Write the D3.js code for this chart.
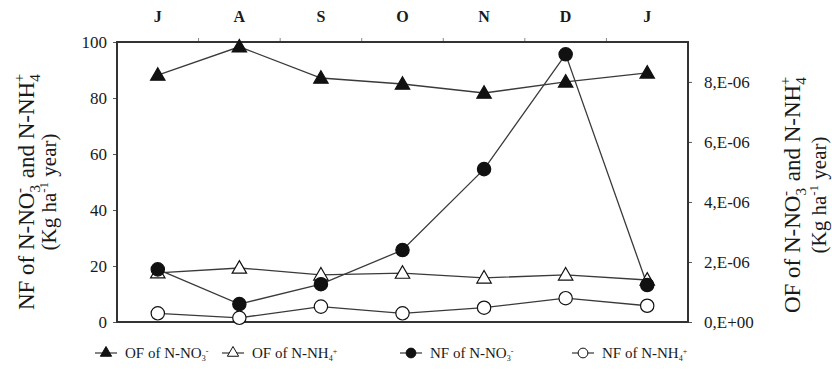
<!DOCTYPE html>
<html>
<head>
<meta charset="utf-8">
<script src="https://cdn.jsdelivr.net/npm/d3@7"></script>
<style>
  body { margin: 0; background: #fff; }
  svg text { font-family: "Liberation Serif", "DejaVu Serif", serif; fill: #1a1a1a; }
  .domain { display: none; }
  .tick line { stroke: #555; }
</style>
</head>
<body>
<svg width="832" height="379"></svg>
<script>
var months = ["J", "A", "S", "O", "N", "D", "J"];
// left axis (NF), Kg ha-1 year
var nfNO3 = [18.8, 6.4, 13.5, 25.7, 54.6, 95.6, 13.2];
var nfNH4 = [3.1, 1.5, 5.5, 3.1, 5.1, 8.5, 5.8];
// right axis (OF)
var ofNO3 = [8.23e-6, 9.17e-6, 8.13e-6, 7.93e-6, 7.63e-6, 8.0e-6, 8.3e-6];
var ofNH4 = [1.64e-6, 1.8e-6, 1.57e-6, 1.63e-6, 1.47e-6, 1.57e-6, 1.4e-6];
var leftTicks = [0, 20, 40, 60, 80, 100];
var rightTicks = [0, 2e-6, 4e-6, 6e-6, 8e-6];

var plotL = 117, plotR = 688, plotT = 42, plotB = 322;

var svg = d3.select("svg");

var x = d3.scaleBand()
    .domain(d3.range(months.length))
    .range([plotL, plotR])
    .padding(0);

var yL = d3.scaleLinear().domain([0, 100]).range([plotB, plotT]);
var yR = d3.scaleLinear().domain([0, 9.33e-6]).range([plotB, plotT]);

function cx(i) { return x(i) + x.bandwidth() / 2; }

// left axis
svg.append("g")
    .attr("transform", "translate(" + plotL + ",0)")
    .call(d3.axisLeft(yL).tickValues(leftTicks).tickSize(4).tickPadding(6))
    .selectAll("text").style("font-size", "17px");

// right axis
svg.append("g")
    .attr("transform", "translate(" + plotR + ",0)")
    .call(d3.axisRight(yR).tickValues(rightTicks).tickSize(4).tickPadding(12)
        .tickFormat(function(v) {
            return v === 0 ? "0,E+00" : Math.round(v / 1e-6) + ",E-06";
        }))
    .selectAll("text").style("font-size", "17px");

// top month labels
svg.append("g")
    .attr("transform", "translate(0," + plotT + ")")
    .call(d3.axisTop(x).tickSize(0).tickPadding(20).tickFormat(function(i) { return months[i]; }))
    .selectAll("text")
    .style("font-size", "16px")
    .style("font-weight", "bold");

// small ticks between months on top border
svg.append("g")
    .selectAll("line")
    .data(d3.range(1, months.length))
    .enter().append("line")
    .attr("x1", function(i) { return x(i); })
    .attr("x2", function(i) { return x(i); })
    .attr("y1", plotT)
    .attr("y2", plotT - 4)
    .attr("stroke", "#888");

// frame
svg.append("rect")
    .attr("x", plotL)
    .attr("y", plotT)
    .attr("width", plotR - plotL)
    .attr("height", plotB - plotT)
    .attr("fill", "none")
    .attr("stroke", "#333")
    .attr("stroke-width", 2);

var triangle = d3.symbol().type(d3.symbolTriangle).size(90);
var circle = d3.symbol().type(d3.symbolCircle).size(140);

var series = [
    { name: "OF of N-NO", sub: "3", sup: "-", values: ofNO3, y: yR, sym: triangle, fill: "#111" },
    { name: "OF of N-NH", sub: "4", sup: "+", values: ofNH4, y: yR, sym: triangle, fill: "#fff" },
    { name: "NF of N-NO", sub: "3", sup: "-", values: nfNO3, y: yL, sym: circle, fill: "#111" },
    { name: "NF of N-NH", sub: "4", sup: "+", values: nfNH4, y: yL, sym: circle, fill: "#fff" }
];

series.forEach(function(s) {
    var line = d3.line()
        .x(function(d, i) { return cx(i); })
        .y(function(d) { return s.y(d); });

    svg.append("path")
        .datum(s.values)
        .attr("d", line)
        .attr("fill", "none")
        .attr("stroke", "#3a3a3a")
        .attr("stroke-width", 1.3);
});

series.forEach(function(s) {
    svg.append("g")
        .selectAll("path")
        .data(s.values)
        .enter().append("path")
        .attr("d", s.sym)
        .attr("transform", function(d, i) {
            return "translate(" + cx(i) + "," + (s.y(d) + (s.sym === triangle ? 1 : 0)) + ")";
        })
        .attr("fill", s.fill)
        .attr("stroke", "#111")
        .attr("stroke-width", 1.2);
});

// axis titles
function title(x1, x2, cyPos, first) {
    var t = svg.append("text")
        .attr("transform", "translate(" + x1 + "," + cyPos + ") rotate(-90)")
        .attr("text-anchor", "middle")
        .style("font-size", "23px");
    t.append("tspan").text(first + " of N-NO");
    t.append("tspan").attr("dy", 6).style("font-size", "15px").text("3");
    t.append("tspan").attr("dx", -8).attr("dy", -16).style("font-size", "15px").text("-");
    t.append("tspan").attr("dx", 4).attr("dy", 10).text(" and N-NH");
    t.append("tspan").attr("dy", 6).style("font-size", "15px").text("4");
    t.append("tspan").attr("dx", -8).attr("dy", -16).style("font-size", "15px").text("+");

    var t2 = svg.append("text")
        .attr("transform", "translate(" + x2 + "," + cyPos + ") rotate(-90)")
        .attr("text-anchor", "middle")
        .style("font-size", "21px");
    t2.append("tspan").text("(Kg ha");
    t2.append("tspan").attr("dy", -8).style("font-size", "13px").text("-1");
    t2.append("tspan").attr("dy", 8).text(" year)");
}
title(34, 56, 192, "NF");
title(800, 826, 195, "OF");

// legend
var legX = [95, 222, 400, 572];
var leg = svg.append("g");
series.forEach(function(s, k) {
    var g = leg.append("g").attr("transform", "translate(" + legX[k] + ",353)");
    g.append("line").attr("x1", 0).attr("x2", 22).attr("stroke", "#333").attr("stroke-width", 1.2);
    g.append("path")
        .attr("d", s.sym === triangle ? d3.symbol().type(d3.symbolTriangle).size(55) : d3.symbol().type(d3.symbolCircle).size(75))
        .attr("transform", "translate(11,0)")
        .attr("fill", s.fill)
        .attr("stroke", "#111");
    var t = g.append("text").attr("x", 30).attr("dy", "0.35em").style("font-size", "15px");
    t.append("tspan").text(s.name);
    t.append("tspan").attr("dy", 3).style("font-size", "8px").text(s.sub);
    t.append("tspan").attr("dy", -7).style("font-size", "8px").text(s.sup);
});
</script>
</body>
</html>
